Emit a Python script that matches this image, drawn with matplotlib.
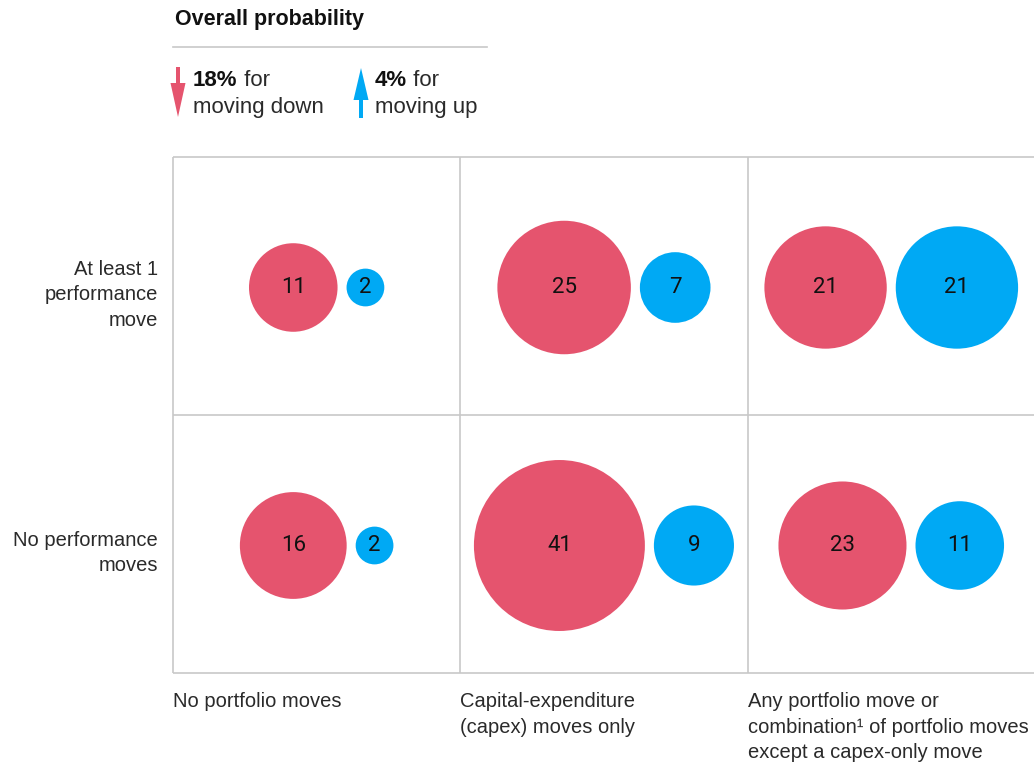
import matplotlib
matplotlib.use("Agg")
import matplotlib.pyplot as plt
from matplotlib.patches import Circle
import numpy as np

# ---- data ----
row_labels = ["At least 1\nperformance\nmove", "No performance\nmoves"]
col_labels = ["No portfolio moves",
              "Capital-expenditure\n(capex) moves only",
              "Any portfolio move or\ncombination\u00b9 of portfolio moves\nexcept a capex-only move"]
down_values = [[11, 25, 21],
               [16, 41, 23]]
up_values = [[2, 7, 21],
             [2, 9, 11]]
overall_down = 18
overall_up = 4

RED = "#E5546E"
BLUE = "#00A9F4"
GRID = "#C8C8C8"
FONT = "Liberation Sans"
NUMFONT = "Roboto"
TXT = "#2a2a2a"

W, H = 1034, 763
fig = plt.figure(figsize=(W / 100, H / 100), dpi=100)
ax = fig.add_axes([0, 0, 1, 1])
ax.set_xlim(0, W)
ax.set_ylim(H, 0)
ax.set_aspect("equal")
ax.axis("off")

# grid geometry (pixels)
x0, cw = 173, 287.3
y0, rh = 157, 258
ncols, nrows = 3, 2
for i in range(ncols + 1):
    ax.plot([x0 + i * cw] * 2, [y0, y0 + nrows * rh], color=GRID, lw=1.2, solid_capstyle="butt")
for j in range(nrows + 1):
    ax.plot([x0, x0 + ncols * cw], [y0 + j * rh] * 2, color=GRID, lw=1.2, solid_capstyle="butt")

k = 13.35  # radius scale: r = k*sqrt(v)
gap = 9
for r in range(nrows):
    cy = y0 + r * rh + rh / 2 + 1.5
    for c in range(ncols):
        cx = x0 + c * cw + cw / 2
        rd = k * np.sqrt(down_values[r][c])
        ru = k * np.sqrt(up_values[r][c])
        total = 2 * rd + gap + 2 * ru
        left = cx - total / 2
        cxd = left + rd
        cxu = left + 2 * rd + gap + ru
        ax.add_patch(Circle((cxd, cy), rd, color=RED, lw=0))
        ax.add_patch(Circle((cxu, cy), ru, color=BLUE, lw=0))
        ax.text(cxd, cy, str(down_values[r][c]), ha="center", va="center",
                fontsize=16, family=NUMFONT, color="#111111")
        ax.text(cxu, cy, str(up_values[r][c]), ha="center", va="center",
                fontsize=16, family=NUMFONT, color="#111111")

# row labels
for r in range(nrows):
    cy = y0 + r * rh + rh / 2 + 9
    ax.text(158, cy, row_labels[r], ha="right", va="center", fontsize=14.5,
            family=FONT, color=TXT, linespacing=1.45)

# column labels
for c in range(ncols):
    ax.text(x0 + c * cw, 692, col_labels[c], ha="left", va="top", fontsize=14.5,
            family=FONT, color=TXT, linespacing=1.45)

# legend / header
ax.text(175, 19, "Overall probability", ha="left", va="center", fontsize=15.5,
        family=FONT, weight="bold", color="#111111")
ax.plot([173, 487], [47, 47], color=GRID, lw=1.2)

# arrows
ax.arrow(178, 67, 0, 50, width=4, head_width=15, head_length=34, length_includes_head=True,
         color=RED, lw=0)
ax.arrow(361, 118, 0, -50, width=4, head_width=15, head_length=32, length_includes_head=True,
         color=BLUE, lw=0)

fig.canvas.draw()
renderer = fig.canvas.get_renderer()

def two_part(x, y, bold, rest):
    t = ax.text(x, y, bold, ha="left", va="center", fontsize=16, family=FONT,
                weight="bold", color="#111111")
    bb = t.get_window_extent(renderer)
    x1 = ax.transData.inverted().transform((bb.x1, bb.y0))[0]
    ax.text(x1, y, rest, ha="left", va="center", fontsize=16, family=FONT, color=TXT)

two_part(193, 80, f"{overall_down}%", " for")
ax.text(193, 108, "moving down", ha="left", va="center", fontsize=16, family=FONT, color=TXT)
two_part(375, 80, f"{overall_up}%", " for")
ax.text(375, 108, "moving up", ha="left", va="center", fontsize=16, family=FONT, color=TXT)

fig.savefig("out.png", dpi=100)
